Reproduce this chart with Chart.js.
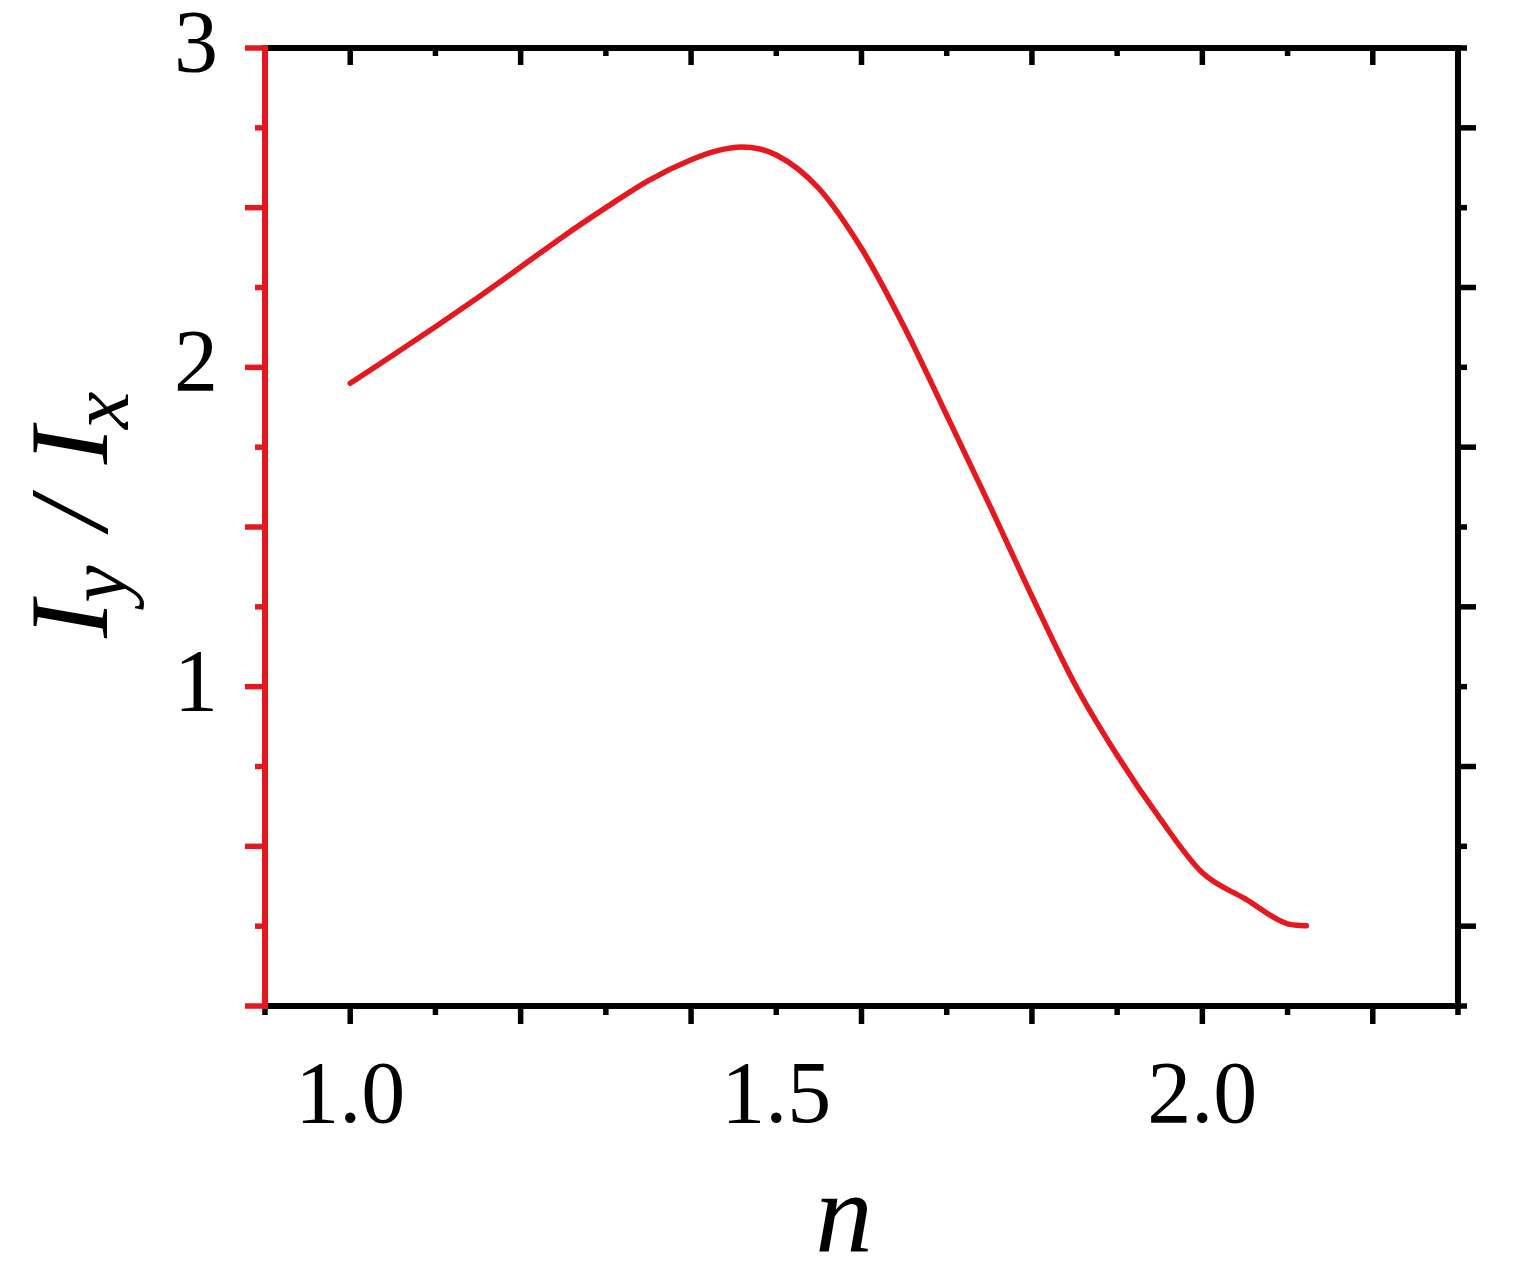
<!DOCTYPE html>
<html>
<head>
<meta charset="utf-8">
<title>Iy / Ix versus n</title>
<script src="https://cdn.jsdelivr.net/npm/chart.js@4.4.1/dist/chart.umd.min.js"></script>
<style>
  html, body { margin: 0; padding: 0; background: #fff; }
  #wrap { width: 1514px; height: 1272px; }
</style>
</head>
<body>
<div id="wrap"><canvas id="ratioChart" width="1514" height="1272"></canvas></div>
<script>
// --- values ---
const nValues     = [1.00, 1.05, 1.10, 1.15, 1.20, 1.25, 1.30, 1.35, 1.40, 1.43, 1.46, 1.50, 1.55, 1.60, 1.65, 1.70, 1.75, 1.80, 1.85, 1.90, 1.95, 2.00, 2.05, 2.10, 2.122];
const ratioValues = [1.95, 2.038, 2.127, 2.219, 2.314, 2.41, 2.50, 2.585, 2.65, 2.678, 2.69, 2.665, 2.56, 2.372, 2.127, 1.85, 1.57, 1.283, 1.01, 0.785, 0.588, 0.417, 0.336, 0.257, 0.251];

// axis setup
const xRange = [0.9, 2.3];
const yRange = [0, 3];
const xTickLabels = [1.0, 1.5, 2.0];
const yTickLabels = [1, 2, 3];
const xMajorTicks = [1.0, 1.2, 1.4, 1.6, 1.8, 2.0, 2.2];
const xMinorTicks = [0.9, 1.1, 1.3, 1.5, 1.7, 1.9, 2.1, 2.3];
const yMajorTicks = [0, 0.5, 1, 1.5, 2, 2.5, 3];        // long on the left (red) axis
const yMinorTicks = [0.25, 0.75, 1.25, 1.75, 2.25, 2.75]; // long on the right axis

const RED = '#e4181e';
const SERIF = '"Liberation Serif", "Times New Roman", serif';

// Origin-style frame: red left axis, black box, long/short ticks
const framePlugin = {
    id: 'frame',
    afterDraw(chart) {
        const { ctx, chartArea: a, scales: { x, y } } = chart;
        ctx.save();
        ctx.lineWidth = 5.5;
        ctx.lineCap = 'butt';

        const seg = (x1, y1, x2, y2, color) => {
            ctx.strokeStyle = color;
            ctx.beginPath();
            ctx.moveTo(x1, y1);
            ctx.lineTo(x2, y2);
            ctx.stroke();
        };

        // bottom ticks point out, top ticks point in
        xMajorTicks.forEach(v => {
            const px = x.getPixelForValue(v);
            seg(px, a.bottom, px, a.bottom + 18, '#000');
            seg(px, a.top, px, a.top + 17, '#000');
        });
        xMinorTicks.forEach(v => {
            const px = x.getPixelForValue(v);
            seg(px, a.bottom, px, a.bottom + 9, '#000');
            seg(px, a.top, px, a.top + 8, '#000');
        });

        yMajorTicks.forEach(v => {
            const py = y.getPixelForValue(v);
            seg(a.left - 20, py, a.left, py, RED);
            seg(a.right, py, a.right + 9, py, '#000');
        });
        yMinorTicks.forEach(v => {
            const py = y.getPixelForValue(v);
            seg(a.left - 10, py, a.left, py, RED);
            seg(a.right, py, a.right + 18, py, '#000');
        });

        // box
        ctx.lineWidth = 6;
        ctx.lineCap = 'square';
        seg(a.left, a.top, a.right, a.top, '#000');
        seg(a.right, a.top, a.right, a.bottom, '#000');
        seg(a.left, a.bottom, a.right, a.bottom, '#000');
        seg(a.left, a.top, a.left, a.bottom, RED);

        // x title
        ctx.fillStyle = '#000';
        ctx.textAlign = 'center';
        ctx.textBaseline = 'alphabetic';
        ctx.font = 'italic 115px ' + SERIF;
        ctx.fillText('n', a.left + 579, a.bottom + 246);

        // y title: I_y / I_x, rotated
        ctx.translate(a.left - 158, a.top + 590);
        ctx.rotate(-Math.PI / 2);
        ctx.textAlign = 'left';
        let pos = 0;
        const big = 'italic 112px ' + SERIF;
        const small = 'italic 84px ' + SERIF;
        const put = (txt, font, dy, kern) => {
            ctx.font = font;
            pos += kern;
            ctx.fillText(txt, pos, dy);
            pos += ctx.measureText(txt).width;
        };
        put('I', big, 0, 0);
        put('y', small, 19, -2);
        put(' / ', big, 0, 8);
        put('I', big, 0, 6);
        put('x', small, 21, -2);

        ctx.restore();
    }
};

const ctx = document.getElementById('ratioChart').getContext('2d');
new Chart(ctx, {
    type: 'line',
    data: {
        datasets: [{
            label: 'Iy / Ix',
            data: nValues.map((n, i) => ({ x: n, y: ratioValues[i] })),
            borderColor: RED,
            borderWidth: 5.5,
            borderCapStyle: 'round',
            pointRadius: 0,
            fill: false,
            cubicInterpolationMode: 'monotone'
        }]
    },
    options: {
        responsive: false,
        animation: false,
        layout: { padding: { left: 0, top: 48, right: 56, bottom: 0 } },
        plugins: { legend: { display: false }, tooltip: { enabled: false } },
        scales: {
            x: {
                type: 'linear',
                min: xRange[0],
                max: xRange[1],
                afterBuildTicks: s => { s.ticks = xTickLabels.map(v => ({ value: v })); },
                afterFit: s => { s.height = 266; s.paddingLeft = 0; s.paddingRight = 0; },
                grid: { display: false, drawTicks: false },
                border: { display: false },
                ticks: {
                    padding: 49,
                    color: '#000',
                    maxRotation: 0,
                    font: { family: SERIF, size: 88, lineHeight: 1 },
                    callback: v => Number(v).toFixed(1)
                }
            },
            y: {
                type: 'linear',
                min: yRange[0],
                max: yRange[1],
                afterBuildTicks: s => { s.ticks = yTickLabels.map(v => ({ value: v })); },
                afterFit: s => { s.width = 265; s.paddingTop = 0; s.paddingBottom = 0; },
                grid: { display: false, drawTicks: false },
                border: { display: false },
                ticks: {
                    padding: 47,
                    color: '#000',
                    font: { family: SERIF, size: 88, lineHeight: 1 },
                    callback: v => String(v)
                }
            }
        }
    },
    plugins: [framePlugin]
});
</script>
</body>
</html>
